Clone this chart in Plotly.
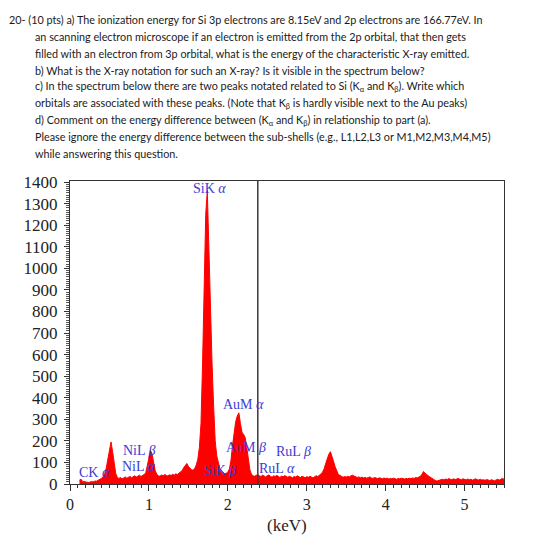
import plotly.graph_objects as go

# ---------------- data (counts, 0.02 keV channels) ----------------
E_START = 0.12   # keV, first channel
E_STEP = 0.02    # keV per channel

counts_012_040 = [18, 22, 12, 10, 8, 9, 7, 10, 9, 11, 14, 13, 18, 22, 26]
counts_042_060 = [35, 48, 75, 120, 168, 195, 150, 90, 48, 30]
counts_062_094 = [26, 30, 24, 28, 33, 27, 31, 35, 29, 34, 38, 32, 36, 41, 35, 39, 44]
counts_096_112 = [52, 80, 120, 155, 140, 100, 62, 45, 38]
counts_114_140 = [36, 42, 38, 44, 40, 37, 43, 39, 45, 41, 47, 44, 50, 55]
counts_142_158 = [62, 75, 88, 95, 82, 72, 66, 64, 72]
counts_160_190 = [88, 115, 170, 280, 560, 900, 1250, 1360, 1080, 780, 560, 360, 200, 130, 95, 70]
counts_192_202 = [58, 52, 48, 50, 55, 70]
counts_204_232 = [110, 180, 250, 290, 315, 330, 280, 240, 230, 215, 170, 110, 65, 45, 38]
counts_234_318 = [36, 40, 44, 38, 35, 41, 37, 33, 39, 42,
                  36, 31, 38, 35, 40, 34, 30, 37, 33, 39,
                  35, 31, 36, 33, 29, 35, 32, 38, 34, 30,
                  36, 33, 29, 34, 31, 36, 32, 28, 34, 38,
                  35, 40, 46]
counts_320_340 = [55, 70, 95, 120, 138, 150, 130, 105, 80, 60, 45]
counts_342_440 = [40, 34, 31, 35, 32, 36, 33, 38, 41, 37,
                  34, 30, 33, 29, 32, 28, 31, 27, 30, 33,
                  28, 26, 30, 27, 25, 29, 26, 24, 28, 25,
                  27, 23, 26, 24, 27, 25, 22, 26, 24, 27,
                  25, 23, 26, 24, 27, 25, 28, 26, 30, 28]
counts_442_460 = [32, 36, 45, 58, 50, 42, 38, 33, 28, 22]
counts_462_550 = [16, 14, 15, 18, 20, 22, 19, 23, 21, 25,
                  22, 20, 24, 21, 23, 26, 22, 20, 24, 21,
                  19, 23, 20, 22, 18, 21, 24, 20, 19, 22,
                  18, 20, 17, 21, 19, 16, 20, 18, 15, 19,
                  22, 18, 24, 26, 22]

counts = (counts_012_040 + counts_042_060 + counts_062_094 + counts_096_112 +
          counts_114_140 + counts_142_158 + counts_160_190 + counts_192_202 +
          counts_204_232 + counts_234_318 + counts_320_340 + counts_342_440 +
          counts_442_460 + counts_462_550)
energies = [round(E_START + E_STEP * i, 2) for i in range(len(counts))]

MARKER_LINE_KEV = 2.38

peak_labels = ["SiK <i>α</i>", "AuM <i>α</i>", "AuM <i>β</i>", "SiK <i>β</i>",
               "RuL <i>β</i>", "RuL <i>α</i>", "NiL <i>β</i>", "NiL <i>α</i>", "CK <i>α</i>"]
peak_label_kev = [1.77, 2.20, 2.23, 1.90, 2.83, 2.62, 0.88, 0.88, 0.31]
peak_label_cts = [1371, 368, 167, 63, 151, 74, 156, 79, 54]

y_ticks = list(range(0, 1401, 100))
x_ticks = [0, 1, 2, 3, 4, 5]

question_lines = [
    "20- (10 pts) a) The ionization energy for Si 3p electrons are 8.15eV and 2p electrons are 166.77eV. In",
    "an scanning electron microscope if an electron is emitted from the 2p orbital, that then gets",
    "filled with an electron from 3p orbital, what is the energy of the characteristic X-ray emitted.",
    "b) What is the X-ray notation for such an X-ray? Is it visible in the spectrum below?",
    "c) In the spectrum below there are two peaks notated related to Si (K<sub>α</sub> and K<sub>β</sub>). Write which",
    "orbitals are associated with these peaks. (Note that K<sub>β</sub> is hardly visible next to the Au peaks)",
    "d) Comment on the energy difference between (K<sub>α</sub> and K<sub>β</sub>) in relationship to part (a).",
    "Please ignore the energy difference between the sub-shells (e.g., L1,L2,L3 or M1,M2,M3,M4,M5)",
    "while answering this question.",
]

# ---------------- layout geometry ----------------
W, H = 560, 545
ML, MR, MT, MB = 70, 56, 181, 61
PW, PH = W - ML - MR, H - MT - MB


def paper_x(px):
    return (px - ML) / PW


def paper_y(py):
    return (H - MB - py) / PH


SERIF = "Liberation Serif, Times New Roman, serif"
TEXT_FONT = "Lato, sans-serif"
BLUE = "#3c3cd6"

fig = go.Figure()
fig.add_trace(go.Scatter(
    x=energies, y=counts, mode="lines",
    line=dict(color="#ff0000", width=1),
    fill="tozeroy", fillcolor="#ff0000",
    hoverinfo="skip", showlegend=False,
))

annotations = []
for t, xk, yc in zip(peak_labels, peak_label_kev, peak_label_cts):
    annotations.append(dict(x=xk, y=yc, xref="x", yref="y", text=t, showarrow=False,
                            font=dict(family=SERIF, size=14, color=BLUE),
                            xanchor="center", yanchor="middle"))

annotations.append(dict(x=0.5, y=paper_y(525), xref="paper", yref="paper", text="(keV)",
                        showarrow=False, font=dict(family=SERIF, size=17, color="#222"),
                        xanchor="center", yanchor="middle"))

for i, line in enumerate(question_lines):
    px = 7 if i == 0 else 33
    py = 20 + i * 16.67
    annotations.append(dict(x=paper_x(px), y=paper_y(py), xref="paper", yref="paper",
                            text=line, showarrow=False, align="left",
                            font=dict(family=TEXT_FONT, size=10.8, color="#1a1a1a"),
                            xanchor="left", yanchor="middle"))

fig.update_layout(
    width=W, height=H,
    margin=dict(l=ML, r=MR, t=MT, b=MB, pad=0),
    paper_bgcolor="white", plot_bgcolor="white",
    annotations=annotations,
    shapes=[dict(type="line", xref="x", yref="paper", x0=MARKER_LINE_KEV, x1=MARKER_LINE_KEV,
                 y0=0, y1=1, line=dict(color="#3a3a3a", width=1.5))],
)

fig.update_xaxes(
    range=[0, 5.5], tickvals=x_ticks, ticktext=[str(v) for v in x_ticks],
    showgrid=False, zeroline=False,
    showline=True, linecolor="#333", linewidth=1, mirror=True,
    ticks="outside", ticklen=6, tickcolor="#333", tickwidth=1,
    minor=dict(dtick=0.1, ticks="outside", ticklen=3, tickcolor="#333", tickwidth=1),
    tickfont=dict(family=SERIF, size=16, color="#222"),
)
fig.update_yaxes(
    range=[0, 1405], tickvals=y_ticks, ticktext=[str(v) for v in y_ticks],
    showgrid=False, zeroline=False,
    showline=True, linecolor="#333", linewidth=1, mirror=True,
    ticks="outside", ticklen=5, tickcolor="#333", tickwidth=1,
    ticklabelstandoff=3,
    minor=dict(dtick=10, ticks="outside", ticklen=3, tickcolor="#555", tickwidth=1),
    tickfont=dict(family=SERIF, size=17, color="#222"),
)

fig.write_html("out.html")
